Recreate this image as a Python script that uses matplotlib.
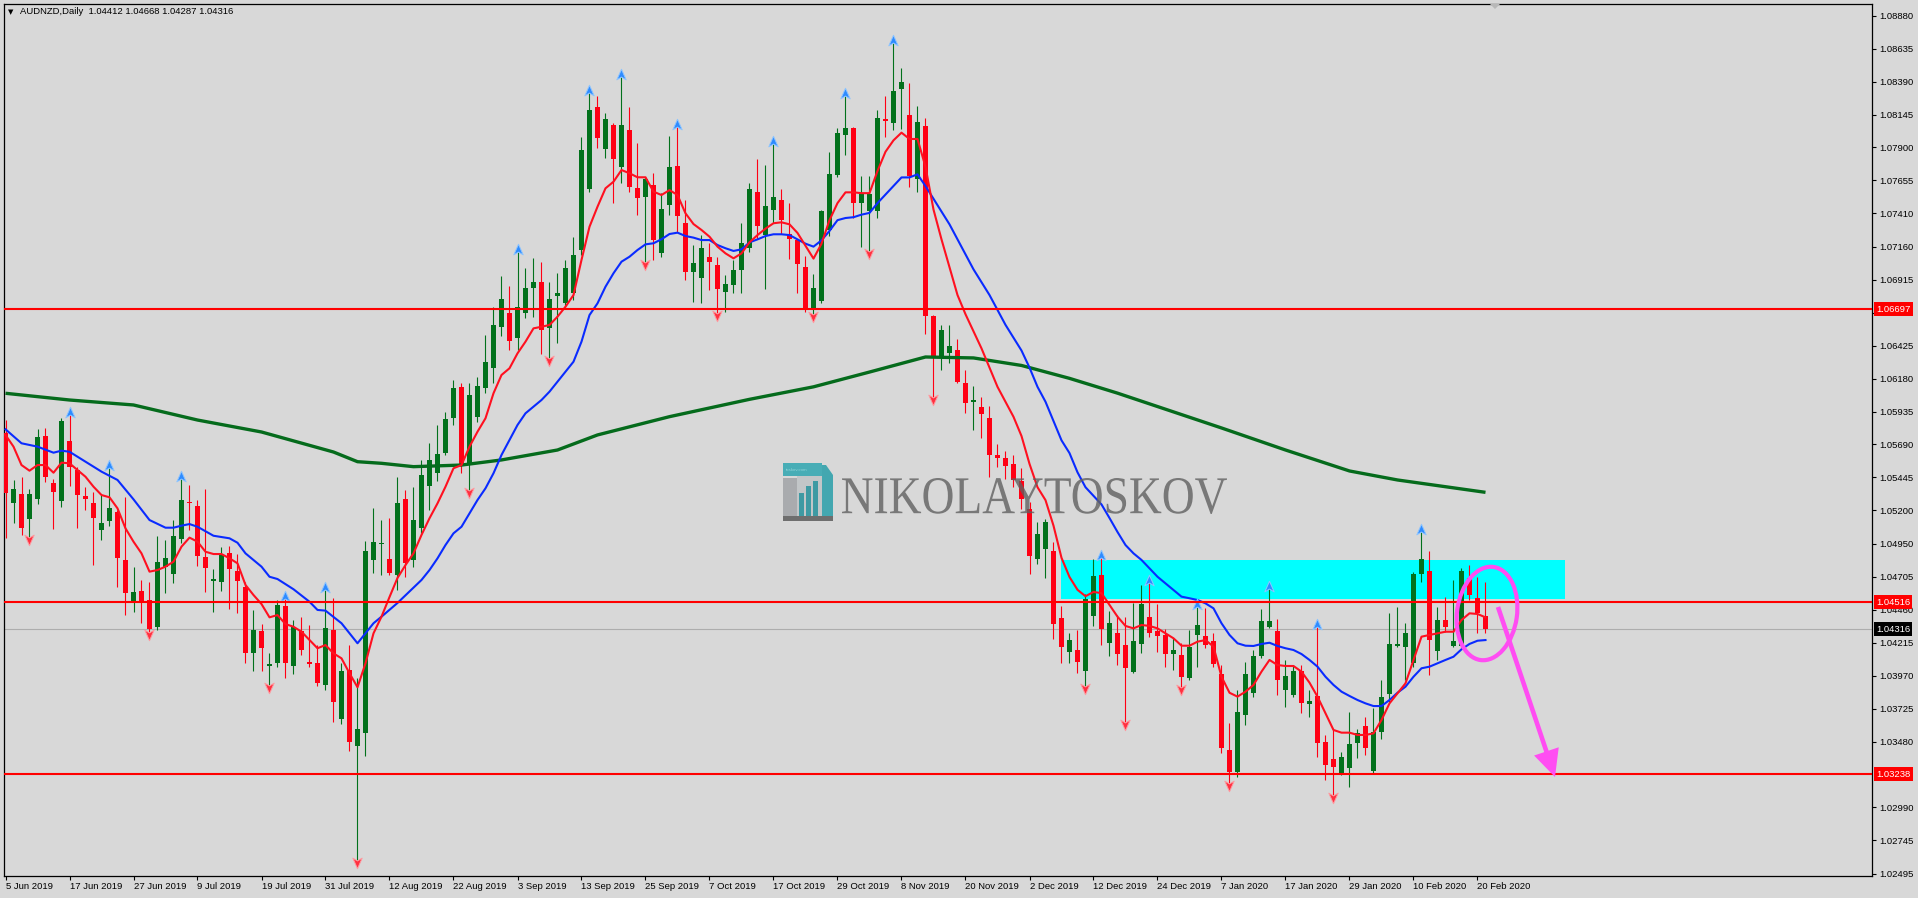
import numpy as np
import matplotlib
matplotlib.use('Agg')
import matplotlib.pyplot as plt
from matplotlib.transforms import Affine2D, blended_transform_factory, offset_copy
from matplotlib.patches import Rectangle, Ellipse, Polygon, PathPatch
from matplotlib.textpath import TextPath
from matplotlib.font_manager import FontProperties
from matplotlib.path import Path

# ---------------- data ----------------
symbol_title = "AUDNZD,Daily  1.04412 1.04668 1.04287 1.04316"

opens = [1.05775, 1.05252, 1.05322, 1.05133, 1.05287, 1.05753, 1.05401, 1.05272, 1.05714, 1.05500,
         1.05307, 1.05252, 1.05054, 1.05123, 1.05186, 1.04831, 1.04526, 1.04600, 1.04533, 1.04334,
         1.04781, 1.04724, 1.04985, 1.05264, 1.05232, 1.04851, 1.04677, 1.04669, 1.04880, 1.04749,
         1.04627, 1.04136, 1.04302, 1.04044, 1.04062, 1.04488, 1.04044, 1.04302, 1.04070, 1.04062,
         1.03901, 1.04310, 1.03645, 1.04012, 1.03449, 1.03546, 1.04831, 1.04947, 1.04838, 1.04720,
         1.05282, 1.04831, 1.05066, 1.05381, 1.05476, 1.05624, 1.05885, 1.06116, 1.05537, 1.05897,
         1.06108, 1.06257, 1.06566, 1.06666, 1.06480, 1.06671, 1.06852, 1.06901, 1.06554, 1.06797,
         1.06740, 1.06815, 1.07137, 1.07591, 1.08199, 1.07886, 1.08067, 1.07757, 1.08030, 1.07601,
         1.07529, 1.07621, 1.07117, 1.07472, 1.07762, 1.07336, 1.06976, 1.06931, 1.07087, 1.07025,
         1.06827, 1.06877, 1.06988, 1.07152, 1.07566, 1.07248, 1.07432, 1.07508, 1.07254, 1.07209,
         1.07009, 1.06707, 1.06755, 1.07286, 1.07693, 1.07995, 1.08042, 1.07486, 1.07429, 1.07429,
         1.08112, 1.08084, 1.08335, 1.08138, 1.07668, 1.08058, 1.06644, 1.06342, 1.06374, 1.06395,
         1.06151, 1.06008, 1.05970, 1.05890, 1.05610, 1.05588, 1.05546, 1.05420, 1.05213, 1.04837,
         1.04911, 1.04901, 1.04402, 1.04148, 1.04163, 1.04005, 1.04412, 1.04720, 1.04212, 1.04290,
         1.04198, 1.04000, 1.04206, 1.04409, 1.04302, 1.04273, 1.04131, 1.04124, 1.03950, 1.04273,
         1.04265, 1.04228, 1.03982, 1.03417, 1.03256, 1.03677, 1.03839, 1.04116, 1.04334, 1.04302,
         1.03863, 1.03826, 1.04005, 1.03759, 1.03819, 1.03474, 1.03350, 1.03244, 1.03285, 1.03471,
         1.03596, 1.03263, 1.03553, 1.03831, 1.04193, 1.04186, 1.04062, 1.04726, 1.04749, 1.04156,
         1.04384, 1.04191, 1.04191, 1.04699, 1.04550, 1.04412]

highs = [1.05872, 1.05426, 1.05446, 1.05357, 1.05803, 1.05810, 1.05431, 1.05885, 1.05909, 1.05525,
         1.05371, 1.05339, 1.05314, 1.05513, 1.05203, 1.05302, 1.04781, 1.04682, 1.04669, 1.05009,
         1.04979, 1.05128, 1.05431, 1.05389, 1.05277, 1.05357, 1.04761, 1.04930, 1.04935, 1.04875,
         1.04669, 1.04459, 1.04354, 1.04136, 1.04533, 1.04538, 1.04384, 1.04404, 1.04347, 1.04199,
         1.04607, 1.04546, 1.04062, 1.04199, 1.03950, 1.04974, 1.05217, 1.05128, 1.05141, 1.05450,
         1.05351, 1.05376, 1.05575, 1.05699, 1.05835, 1.05934, 1.06170, 1.06150, 1.06150, 1.06194,
         1.06505, 1.06715, 1.06944, 1.06869, 1.07124, 1.07001, 1.07075, 1.07050, 1.06901, 1.06964,
         1.07063, 1.07236, 1.07976, 1.08303, 1.08283, 1.08154, 1.08080, 1.08426, 1.08203, 1.07935,
         1.07682, 1.07708, 1.07559, 1.07985, 1.08054, 1.07509, 1.07174, 1.07249, 1.07191, 1.07087,
         1.06951, 1.07063, 1.07336, 1.07636, 1.07814, 1.07772, 1.07922, 1.07591, 1.07487, 1.07216,
         1.07089, 1.06961, 1.07438, 1.07868, 1.08042, 1.08281, 1.08049, 1.07686, 1.07686, 1.08176,
         1.08281, 1.08679, 1.08494, 1.08377, 1.08208, 1.08119, 1.06650, 1.06580, 1.06580, 1.06475,
         1.06246, 1.06128, 1.06046, 1.05976, 1.05696, 1.05642, 1.05610, 1.05515, 1.05261, 1.05117,
         1.05133, 1.04965, 1.04488, 1.04291, 1.04307, 1.04577, 1.04837, 1.04847, 1.04450, 1.04421,
         1.04409, 1.04508, 1.04645, 1.04657, 1.04501, 1.04315, 1.04248, 1.04211, 1.04310, 1.04483,
         1.04471, 1.04285, 1.04049, 1.03616, 1.03863, 1.04074, 1.04161, 1.04464, 1.04613, 1.04389,
         1.04087, 1.04049, 1.04049, 1.03863, 1.04334, 1.03529, 1.03571, 1.03404, 1.03702, 1.03571,
         1.03665, 1.03727, 1.03938, 1.04434, 1.04483, 1.04364, 1.04744, 1.05041, 1.04898, 1.04479,
         1.04558, 1.04682, 1.04771, 1.04793, 1.04706, 1.04668]

lows = [1.04994, 1.05104, 1.05017, 1.05004, 1.05247, 1.05413, 1.05059, 1.05223, 1.05383, 1.05066,
        1.05203, 1.04793, 1.04979, 1.05084, 1.04632, 1.04421, 1.04446, 1.04360, 1.04297, 1.04310,
        1.04583, 1.04662, 1.04955, 1.05054, 1.04788, 1.04595, 1.04446, 1.04602, 1.04464, 1.04439,
        1.04062, 1.04007, 1.04007, 1.03901, 1.04037, 1.03950, 1.03983, 1.04124, 1.04037, 1.03893,
        1.03863, 1.03628, 1.03611, 1.03412, 1.02599, 1.03375, 1.04732, 1.04719, 1.04719, 1.04607,
        1.04706, 1.04781, 1.05029, 1.05203, 1.05421, 1.05612, 1.05835, 1.05476, 1.05351, 1.05860,
        1.06071, 1.06145, 1.06497, 1.06393, 1.06393, 1.06629, 1.06641, 1.06365, 1.06330, 1.06443,
        1.06715, 1.06765, 1.07100, 1.07571, 1.07894, 1.07819, 1.07484, 1.07633, 1.07571, 1.07397,
        1.07050, 1.07063, 1.07087, 1.07397, 1.07273, 1.06914, 1.06752, 1.06745, 1.06839, 1.06666,
        1.06678, 1.06815, 1.06819, 1.07121, 1.07216, 1.06844, 1.07336, 1.07254, 1.07073, 1.06819,
        1.06675, 1.06659, 1.06739, 1.07241, 1.07677, 1.07845, 1.07375, 1.07159, 1.07127, 1.07375,
        1.07979, 1.08027, 1.08037, 1.07604, 1.07566, 1.06510, 1.06040, 1.06246, 1.06294, 1.06151,
        1.05928, 1.05801, 1.05738, 1.05451, 1.05524, 1.05436, 1.05372, 1.05213, 1.04729, 1.04799,
        1.04697, 1.04243, 1.04061, 1.04061, 1.03988, 1.03893, 1.04338, 1.04195, 1.04116, 1.04049,
        1.03628, 1.03988, 1.04136, 1.04260, 1.04148, 1.04037, 1.04012, 1.03888, 1.03938, 1.04037,
        1.04174, 1.04037, 1.03392, 1.03169, 1.03218, 1.03603, 1.03814, 1.04099, 1.04322, 1.03826,
        1.03735, 1.03814, 1.03690, 1.03665, 1.03367, 1.03194, 1.03082, 1.03231, 1.03144, 1.03355,
        1.03380, 1.03248, 1.03497, 1.03776, 1.04186, 1.03938, 1.04037, 1.04669, 1.03975, 1.04087,
        1.04297, 1.04183, 1.04183, 1.04533, 1.04285, 1.04287]

closes = [1.05329, 1.05357, 1.05071, 1.05322, 1.05744, 1.05450, 1.05339, 1.05865, 1.05520, 1.05314,
          1.05287, 1.05141, 1.05104, 1.05215, 1.04843, 1.04583, 1.04590, 1.04526, 1.04315, 1.04813,
          1.04843, 1.05009, 1.05277, 1.05252, 1.04863, 1.04769, 1.04689, 1.04868, 1.04761, 1.04677,
          1.04136, 1.04310, 1.04174, 1.04057, 1.04496, 1.04062, 1.04334, 1.04161, 1.04057, 1.03913,
          1.04322, 1.03776, 1.04005, 1.03479, 1.03573, 1.04898, 1.04967, 1.04955, 1.04732, 1.05252,
          1.04806, 1.05128, 1.05463, 1.05575, 1.05617, 1.05880, 1.06113, 1.05537, 1.06058, 1.06125,
          1.06302, 1.06579, 1.06772, 1.06460, 1.06711, 1.06852, 1.06901, 1.06542, 1.06770, 1.06815,
          1.07001, 1.07100, 1.07881, 1.08179, 1.07973, 1.08109, 1.07812, 1.08067, 1.07608, 1.07522,
          1.07663, 1.07211, 1.07440, 1.07752, 1.07390, 1.06976, 1.07043, 1.07150, 1.07050, 1.06845,
          1.06882, 1.06988, 1.07191, 1.07591, 1.07318, 1.07461, 1.07534, 1.07359, 1.07216, 1.07031,
          1.06707, 1.06851, 1.07429, 1.07702, 1.08010, 1.08042, 1.07486, 1.07550, 1.07550, 1.08122,
          1.08100, 1.08319, 1.08386, 1.07686, 1.08090, 1.06644, 1.06342, 1.06542, 1.06421, 1.06157,
          1.05998, 1.06023, 1.05918, 1.05610, 1.05588, 1.05531, 1.05429, 1.05283, 1.04857, 1.05022,
          1.05117, 1.04354, 1.04186, 1.04233, 1.04075, 1.04539, 1.04710, 1.04317, 1.04360, 1.04131,
          1.04025, 1.04228, 1.04503, 1.04285, 1.04265, 1.04131, 1.04161, 1.03962, 1.04186, 1.04347,
          1.04198, 1.04055, 1.03430, 1.03256, 1.03702, 1.03982, 1.04116, 1.04377, 1.04377, 1.03938,
          1.03968, 1.04007, 1.03764, 1.03782, 1.03471, 1.03305, 1.03293, 1.03363, 1.03462, 1.03546,
          1.03430, 1.03553, 1.03814, 1.04203, 1.04206, 1.04290, 1.04726, 1.04836, 1.04235, 1.04384,
          1.04334, 1.04228, 1.04751, 1.04570, 1.04434, 1.04316]

# fast moving average (red), one value per bar
ma_fast = [1.05761, 1.05674, 1.05537, 1.05495, 1.05537, 1.05537, 1.05480, 1.05555, 1.05550, 1.05500,
           1.05450, 1.05376, 1.05314, 1.05297, 1.05215, 1.05066, 1.04967, 1.04880, 1.04744, 1.04756,
           1.04781, 1.04818, 1.04930, 1.04997, 1.04967, 1.04892, 1.04875, 1.04875, 1.04843, 1.04806,
           1.04645, 1.04570, 1.04503, 1.04404, 1.04421, 1.04354, 1.04334, 1.04297, 1.04235, 1.04174,
           1.04198, 1.04136, 1.04099, 1.03988, 1.03884, 1.04062, 1.04285, 1.04409, 1.04555, 1.04697,
           1.04793, 1.04880, 1.05017, 1.05141, 1.05252, 1.05376, 1.05513, 1.05537, 1.05674, 1.05785,
           1.05885, 1.06071, 1.06207, 1.06257, 1.06368, 1.06455, 1.06554, 1.06566, 1.06579, 1.06641,
           1.06715, 1.06802, 1.07063, 1.07310, 1.07459, 1.07596, 1.07645, 1.07732, 1.07708, 1.07678,
           1.07678, 1.07571, 1.07546, 1.07583, 1.07546, 1.07410, 1.07330, 1.07286, 1.07236, 1.07162,
           1.07112, 1.07075, 1.07112, 1.07194, 1.07248, 1.07296, 1.07336, 1.07343, 1.07328, 1.07264,
           1.07168, 1.07073, 1.07184, 1.07359, 1.07486, 1.07566, 1.07566, 1.07560, 1.07560, 1.07725,
           1.07868, 1.07953, 1.08010, 1.07963, 1.07963, 1.07756, 1.07438, 1.07216, 1.07009, 1.06802,
           1.06659, 1.06532, 1.06405, 1.06262, 1.06119, 1.06008, 1.05896, 1.05753, 1.05546, 1.05372,
           1.05276, 1.05086, 1.04847, 1.04704, 1.04609, 1.04561, 1.04593, 1.04584, 1.04496, 1.04409,
           1.04340, 1.04322, 1.04347, 1.04340, 1.04322, 1.04285, 1.04248, 1.04193, 1.04193, 1.04223,
           1.04235, 1.04186, 1.03962, 1.03843, 1.03814, 1.03851, 1.03901, 1.04000, 1.04087, 1.04049,
           1.04042, 1.04042, 1.04000, 1.03918, 1.03814, 1.03690, 1.03566, 1.03546, 1.03546, 1.03529,
           1.03529, 1.03541, 1.03640, 1.03764, 1.03839, 1.03913, 1.04087, 1.04260, 1.04273, 1.04285,
           1.04297, 1.04297, 1.04384, 1.04434, 1.04429, 1.04404]

# medium moving average (blue), read at these bars
ma_mid_bars = [0, 2, 4, 6, 7, 8, 10, 12, 14, 16, 18, 20, 21, 22, 23, 24, 26, 28, 29, 30, 32, 33, 34, 36,
               38, 39, 40, 42, 43, 44, 45, 46, 47, 49, 52] + list(range(53, 186))
ma_mid_vals = [1.05803, 1.05699, 1.05674, 1.05629, 1.05644, 1.05636, 1.05562, 1.05488, 1.05426, 1.05282,
               1.05128, 1.05071, 1.05071, 1.05086, 1.05098, 1.05078, 1.05011, 1.04992, 1.04959, 1.04880,
               1.04781, 1.04706, 1.04689, 1.04613, 1.04520, 1.04459, 1.04454, 1.04360, 1.04285, 1.04211,
               1.04285, 1.04360, 1.04409, 1.04511, 1.04682,
               1.04756, 1.04843, 1.04942, 1.05029, 1.05078, 1.05178, 1.05277, 1.05364, 1.05476, 1.05612,
               1.05723, 1.05835, 1.05922, 1.05971, 1.06021, 1.06083, 1.06157, 1.06232, 1.06306, 1.06455,
               1.06653, 1.06740, 1.06864, 1.06964, 1.07050, 1.07087, 1.07137, 1.07179, 1.07187, 1.07217,
               1.07256, 1.07266, 1.07241, 1.07229, 1.07211, 1.07211, 1.07174, 1.07150, 1.07130, 1.07142,
               1.07194, 1.07216, 1.07241, 1.07254, 1.07254, 1.07248, 1.07216, 1.07184, 1.07162, 1.07209,
               1.07279, 1.07359, 1.07375, 1.07381, 1.07400, 1.07413, 1.07486, 1.07550, 1.07613, 1.07677,
               1.07677, 1.07700, 1.07613, 1.07518, 1.07423, 1.07328, 1.07216, 1.07104, 1.06993, 1.06898,
               1.06802, 1.06691, 1.06580, 1.06485, 1.06389, 1.06262, 1.06119, 1.06008, 1.05865, 1.05721,
               1.05626, 1.05483, 1.05372, 1.05308, 1.05244, 1.05143, 1.05039, 1.04942, 1.04880, 1.04831,
               1.04769, 1.04706, 1.04657, 1.04607, 1.04558, 1.04546, 1.04533, 1.04508, 1.04471, 1.04360,
               1.04273, 1.04211, 1.04193, 1.04191, 1.04206, 1.04215, 1.04191, 1.04174, 1.04161, 1.04131,
               1.04087, 1.04037, 1.03962, 1.03901, 1.03851, 1.03819, 1.03789, 1.03764, 1.03744, 1.03744,
               1.03789, 1.03843, 1.03888, 1.03962, 1.04025, 1.04037, 1.04062, 1.04087, 1.04111, 1.04166,
               1.04206, 1.04230, 1.04235]

# slow moving average (green), read at these bars
ma_slow_bars = [0, 8, 16, 24, 32, 41, 44, 47, 51, 57, 62, 69, 74, 83, 93, 101, 108, 115, 121, 127,
                133, 139, 152, 160, 168, 174, 185]
ma_slow_vals = [1.06071, 1.06021, 1.05984, 1.05872, 1.05783, 1.05634, 1.05562, 1.05550, 1.05525, 1.05537,
                1.05575, 1.05649, 1.05761, 1.05897, 1.06026, 1.06119, 1.06229, 1.06341, 1.06334, 1.06278,
                1.06182, 1.06072, 1.05813, 1.05649, 1.05493, 1.05426, 1.05334]

fractal_up = [8, 13, 22, 35, 40, 64, 73, 77, 84, 96, 105, 111, 137, 143, 149, 158, 164, 177]
fractal_down = [3, 18, 33, 44, 58, 68, 80, 89, 101, 108, 116, 135, 140, 147, 153, 166]

date_tick_bars = list(range(0, 185, 8))
date_tick_labels = ['5 Jun 2019', '17 Jun 2019', '27 Jun 2019', '9 Jul 2019', '19 Jul 2019',
                    '31 Jul 2019', '12 Aug 2019', '22 Aug 2019', '3 Sep 2019', '13 Sep 2019',
                    '25 Sep 2019', '7 Oct 2019', '17 Oct 2019', '29 Oct 2019', '8 Nov 2019',
                    '20 Nov 2019', '2 Dec 2019', '12 Dec 2019', '24 Dec 2019', '7 Jan 2020',
                    '17 Jan 2020', '29 Jan 2020', '10 Feb 2020', '20 Feb 2020']

price_ticks = [1.08880, 1.08635, 1.08390, 1.08145, 1.07900, 1.07655, 1.07410, 1.07160, 1.06915,
               1.06670, 1.06425, 1.06180, 1.05935, 1.05690, 1.05445, 1.05200, 1.04950, 1.04705,
               1.04460, 1.04215, 1.03970, 1.03725, 1.03480, 1.02990, 1.02745, 1.02495]

level_lines = [1.06697, 1.04516, 1.03238]
last_price = 1.04316
zone_low, zone_high = 1.04541, 1.04831
zone_start_bar, zone_end_bar = 131.9, 195.0

# ---------------- style ----------------
W, H = 1918, 898
BG = '#D8D8D8'
BULL = '#02711C'
BEAR = '#FF0014'
FONT = ['Liberation Sans', 'DejaVu Sans']

fig = plt.figure(figsize=(W / 100, H / 100), dpi=100, facecolor=BG)
PIX = Affine2D().scale(1.0 / W, -1.0 / H).translate(0, 1) + fig.transFigure

AX_L, AX_R, AX_T, AX_B = 3.5, 1872.0, 3.5, 876.0
ax = fig.add_axes([AX_L / W, 1 - AX_B / H, (AX_R - AX_L) / W, (AX_B - AX_T) / H])
ax.set_facecolor(BG)

X0, DX = 5.5, 8.0          # pixel of bar 0 and bar spacing
P0, DP = 1.08997, 0.0000744  # price at pixel row 0 and price per pixel
ax.set_xlim((AX_L - X0) / DX, (AX_R - X0) / DX)
ax.set_ylim(P0 - DP * AX_B, P0 - DP * AX_T)

for s in ax.spines.values():
    s.set_color('black')
    s.set_linewidth(0.9)

# ---------------- watermark ----------------
fp = FontProperties(family='Liberation Serif')
tp = TextPath((0, 0), "NIKOLAYTOSKOV", size=100, prop=fp)
bb = tp.get_extents()
sx = 385.0 / bb.width
sy = 36.0 / bb.height
tr = Affine2D().translate(-bb.x0, -bb.y0).scale(sx, -sy).translate(842, 514) + PIX
fig.patches.append(PathPatch(tp, transform=tr, fc='#606060', ec='none', alpha=0.8, zorder=0.5))
# logo
logo_parts = [
    ((783, 463, 39, 13), '#48ADB6'),
    ((797, 476, 25, 40), '#C2C6C8'),
    ((783, 478, 14, 38), '#A9ABAE'),
    ((799, 493, 5, 23), '#3E9AA3'),
    ((806, 486, 5, 30), '#3E9AA3'),
    ((813, 481, 5, 35), '#3E9AA3'),
    ((783, 516, 50, 5), '#6E6E6E'),
]
for (x, y, w, h), c in logo_parts:
    fig.patches.append(Rectangle((x, y), w, h, transform=PIX, fc=c, ec='none', zorder=0.6))
fig.patches.append(Polygon([(822, 465), (826, 465), (833, 475), (833, 516), (822, 516)],
                           closed=True, transform=PIX, fc='#43A7B0', ec='none', zorder=0.6))
fig.text(786 / W, 1 - 470 / H, 'toskov.com', fontsize=3.2, color='#8FD3D8',
         family=FONT, va='center', ha='left', zorder=0.7)

# ---------------- zone & lines ----------------
ax.add_patch(Rectangle((zone_start_bar, zone_low), zone_end_bar - zone_start_bar,
                       zone_high - zone_low, fc='#00FFFF', ec='none', zorder=1.5))
ax.axhline(last_price, color='#ADADAD', lw=0.8, zorder=1.6)

# ---------------- candles ----------------
o = np.array(opens); h = np.array(highs); l = np.array(lows); c = np.array(closes)
x = np.arange(len(o))
cols = np.where(c >= o, BULL, BEAR)
ax.vlines(x, l, h, colors=cols, linewidth=0.8, zorder=3)
body_bottom = np.minimum(o, c)
body_h = np.maximum(np.abs(c - o), 0.00009)
ax.bar(x, body_h, bottom=body_bottom, width=0.64, color=cols, linewidth=0, zorder=4)

# moving averages
ax.plot(ma_slow_bars, ma_slow_vals, color='#056B1C', lw=2.4, zorder=5, solid_capstyle='butt')
ax.plot(ma_mid_bars, ma_mid_vals, color='#0A2BFF', lw=1.5, zorder=5.2)
ax.plot(x, ma_fast, color='#FF1020', lw=1.5, zorder=5.4)

# fractal arrows
up_path = Path([(0, 1), (0.75, -0.7), (0, -0.25), (-0.75, -0.7), (0, 1)],
               [Path.MOVETO, Path.LINETO, Path.LINETO, Path.LINETO, Path.CLOSEPOLY])
dn_path = Path([(0, -1), (0.75, 0.7), (0, 0.25), (-0.75, 0.7), (0, -1)],
               [Path.MOVETO, Path.LINETO, Path.LINETO, Path.LINETO, Path.CLOSEPOLY])
tr_up = offset_copy(ax.transData, fig=fig, x=0, y=2, units='dots')
tr_dn = offset_copy(ax.transData, fig=fig, x=0, y=-2, units='dots')
ax.plot(fractal_up, h[fractal_up], ls='none', marker=up_path, ms=9, mfc='#2E8BFF',
        mec='#8EC5FF', mew=0.7, transform=tr_up, zorder=6)
ax.plot(fractal_down, l[fractal_down], ls='none', marker=dn_path, ms=9, mfc='#FF3040',
        mec='#FF9AA0', mew=0.7, transform=tr_dn, zorder=6)

for lv in level_lines:
    ax.axhline(lv, color='#FF0000', lw=1.5, zorder=6.5)

# ---------------- axes ticks ----------------
ax.yaxis.tick_right()
ax.set_yticks(price_ticks)
ax.set_yticklabels(['%.5f' % v for v in price_ticks])
ax.tick_params(axis='y', direction='out', length=3, width=0.8, pad=2, labelsize=6.8,
               colors='black')
ax.set_xticks(date_tick_bars)
ax.set_xticklabels(date_tick_labels)
ax.tick_params(axis='x', direction='out', length=3, width=0.8, pad=1.5, labelsize=6.8,
               colors='black')
for lab in ax.get_xticklabels() + ax.get_yticklabels():
    lab.set_family(FONT)
for lab in ax.get_xticklabels():
    lab.set_ha('left')

# price boxes on the right axis
btr = blended_transform_factory(ax.transAxes, ax.transData)
xb = (1876.0 - AX_L) / (AX_R - AX_L)
for lv in level_lines:
    ax.text(xb, lv, '%.5f' % lv, transform=btr, fontsize=6.8, family=FONT, color='white',
            va='center', ha='left', clip_on=False, zorder=20,
            bbox=dict(boxstyle='square,pad=0.25', fc='#FF0000', ec='none'))
ax.text(xb, last_price, '%.5f' % last_price, transform=btr, fontsize=6.8, family=FONT,
        color='white', va='center', ha='left', clip_on=False, zorder=20,
        bbox=dict(boxstyle='square,pad=0.25', fc='#000000', ec='none'))

# ---------------- title ----------------
fig.text(7.5 / W, 1 - 12 / H, '\u25BC', fontsize=5, family=['DejaVu Sans'], color='black',
         va='center', ha='left')
fig.text(20 / W, 1 - 12 / H, symbol_title, fontsize=6.8, family=FONT, color='black',
         va='center', ha='left')
# chart shift marker
fig.patches.append(Polygon([(1490, 4), (1500, 4), (1495, 9)], closed=True, transform=PIX,
                           fc='#B8B8B8', ec='none', zorder=3))

# ---------------- hand-drawn annotation ----------------
MAG = '#FF4DF2'
fig.patches.append(Ellipse((1487, 613.5), 60, 94, angle=8, transform=PIX, fill=False,
                           ec=MAG, lw=3.0, zorder=10))
sx0, sy0 = 1498.0, 607.0
tx, ty = 1555.0, 777.0
d = np.array([tx - sx0, ty - sy0]); L = np.hypot(*d); u = d / L; nrm = np.array([u[1], -u[0]])
base = np.array([tx, ty]) - 27 * u
fig.lines.append(matplotlib.lines.Line2D([sx0, base[0] + 2 * u[0]], [sy0, base[1] + 2 * u[1]],
                                         transform=PIX, color=MAG, lw=3.3, zorder=10,
                                         solid_capstyle='butt'))
fig.patches.append(Polygon([(tx, ty), tuple(base + 13 * nrm), tuple(base - 13 * nrm)],
                           closed=True, transform=PIX, fc=MAG, ec='none', zorder=10))

fig.savefig('out.png', dpi=100, facecolor=BG)
